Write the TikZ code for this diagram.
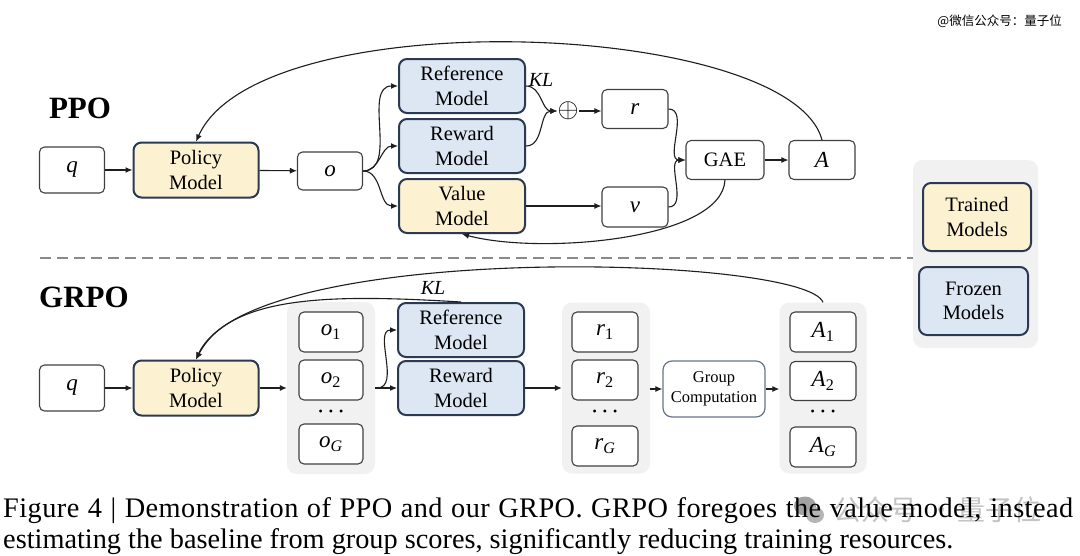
\documentclass[tikz,border=0pt]{standalone}
\usepackage{fix-cm}
\usepackage{graphicx}
\usepackage{fontspec}
\setmainfont{Liberation Serif}
\newfontfamily\cjk{Noto Sans CJK SC}
\newfontfamily\capspaced[LetterSpace=1.6]{Liberation Serif}
\usetikzlibrary{arrows.meta}
\newcommand\fz[2]{\fontsize{#1}{#2}\selectfont}
\newcommand\mi[1]{\textit{#1}}
\newcommand\ms[2]{\textit{#1}\textsubscript{#2}}
\definecolor{navy}{HTML}{2B3A52}
\definecolor{boxgray}{HTML}{404040}
\definecolor{trainfill}{HTML}{FCF1D0}
\definecolor{frozfill}{HTML}{DDE7F3}
\definecolor{bggray}{HTML}{F1F1F1}
\definecolor{linecol}{HTML}{1E1E1E}
\definecolor{gcborder}{HTML}{66758C}
\definecolor{dashcol}{HTML}{8A8A8A}
\definecolor{wmtext}{HTML}{C4C4C4}
\definecolor{wmicon}{HTML}{A2A2A2}
\tikzset{
  base/.style={rounded corners=5pt, align=center, inner sep=0pt, font=\fz{20.5}{24.5}, text=black},
  plain/.style={base, draw=boxgray, fill=white, line width=1.1pt},
  var/.style={plain, font=\fz{23}{23}},
  trained/.style={base, draw=navy, fill=trainfill, line width=2pt, rounded corners=8pt},
  frozen/.style={base, draw=navy, fill=frozfill, line width=2pt, rounded corners=8pt},
  grpbg/.style={fill=bggray, rounded corners=10pt, inner sep=0pt},
  arr/.style={-{Latex[length=7pt,width=6pt]}, line width=1.1pt, draw=linecol},
  title/.style={font=\fz{31}{31}\bfseries, inner sep=0pt},
  lbl/.style={font=\fz{20}{20}, inner sep=0pt},
  dotsn/.style={font=\fz{12}{12}, inner sep=0pt},
  wm/.style={anchor=base west, inner sep=0pt, text=wmtext, font=\fz{28}{28}\cjk},
}
\begin{document}
\begin{tikzpicture}[x=1pt,y=-1pt]
\useasboundingbox[fill=white] (0,0) rectangle (1080,555);

% watermarks
\node[anchor=base east, inner sep=0pt, font=\fz{12.5}{12.5}\cjk] (wm) at (1062,25) {@微信公众号：量子位};
\fill[wmicon] (805,506) ellipse [x radius=11, y radius=9.5];
\fill[wmicon!80] (815,515) ellipse [x radius=9, y radius=8];
\node[wm] (wm2) at (833,520) {公众号};
\node[wm] (wm3) at (927,520) {·};
\node[wm] (wm4) at (957,520) {量子位};

% ---------------- PPO ----------------
\node[title] (ppo) at (80,108) {PPO};
\node[var, minimum width=65pt, minimum height=46pt] (q1) at (72,170) {\mi{q}};
\node[trained, minimum width=125pt, minimum height=55pt] (pol1) at (196,170) {Policy\\Model};
\node[var, minimum width=65pt, minimum height=38pt] (o) at (330,171) {\mi{o}};
\node[frozen, minimum width=126pt, minimum height=54pt] (ref1) at (462,86) {Reference\\Model};
\node[frozen, minimum width=126pt, minimum height=54pt] (rew1) at (462,146) {Reward\\Model};
\node[trained, minimum width=126pt, minimum height=54pt] (val1) at (462,206) {Value\\Model};
\node[lbl] (kl1) at (541,80) {\mi{KL}};
\node[inner sep=0pt, font=\fz{20}{20}] (oplus) at (568,111) {\scalebox{1.35}{$\oplus$}};
\node[var, minimum width=66pt, minimum height=39pt] (r) at (635,109) {\mi{r}};
\node[var, minimum width=66pt, minimum height=40pt] (v) at (635,207) {\mi{v}};
\node[plain, minimum width=78pt, minimum height=39pt] (gae) at (725,160) {GAE};
\node[var, minimum width=66pt, minimum height=39pt] (A) at (822,160) {\mi{A}};

\draw[arr] (q1) -- (pol1);
\draw[arr] (pol1) -- (o);
\draw[arr] (o.east) to[out=0,in=180] (ref1.west);
\draw[arr] (o.east) to[out=0,in=180] (rew1.west);
\draw[arr] (o.east) to[out=0,in=180] (val1.west);
\draw[arr] (ref1.east) to[out=0,in=180] (oplus.west);
\draw[arr] (rew1.east) to[out=0,in=180] (oplus.west);
\draw[arr] (oplus.east) -- (oplus.east -| r.west);
\draw[arr] (r.east) to[out=0,in=180] (gae.west);
\draw[arr] (v.east) to[out=0,in=180] (gae.west);
\draw[arr] (val1.east) -- (val1.east -| v.west);
\draw[arr] (gae) -- (A);
\draw[arr] (A.north) .. controls (790,20) and (260,0) .. (pol1.north);
\draw[arr] (gae.south) .. controls (722,240) and (540,255) .. (val1.south);

% separator
\draw[dashcol, line width=2.5pt, dash pattern=on 11pt off 6pt] (40,258) -- (1028,258);

% legend
\node[grpbg, minimum width=125pt, minimum height=188pt] (legbg) at (975.5,254) {};
\node[trained, minimum width=108pt, minimum height=68pt] (legt) at (977,217) {Trained\\Models};
\node[frozen, minimum width=109pt, minimum height=68pt] (legf) at (973.5,301) {Frozen\\Models};

% ---------------- GRPO ----------------
\node[title] (grpo) at (84,297) {GRPO};
\node[var, minimum width=65pt, minimum height=46pt] (q2) at (72,388) {\mi{q}};
\node[trained, minimum width=125pt, minimum height=55pt] (pol2) at (196,388) {Policy\\Model};

\node[grpbg, minimum width=88pt, minimum height=172pt] (obg) at (331,388) {};
\node[var, minimum width=64pt, minimum height=40pt] (o1) at (331,332) {\ms{o}{1}};
\node[var, minimum width=64pt, minimum height=40pt] (o2) at (331,380) {\ms{o}{2}};
\node[dotsn] (od) at (331,413) {\textbullet\hspace{6pt}\textbullet\hspace{6pt}\textbullet};
\node[var, minimum width=64pt, minimum height=40pt] (oG) at (331,444) {\ms{o}{\textit{G}}};

\node[frozen, minimum width=126pt, minimum height=54pt] (ref2) at (461,330) {Reference\\Model};
\node[frozen, minimum width=126pt, minimum height=54pt] (rew2) at (461,388) {Reward\\Model};
\node[lbl] (kl2) at (433,288) {\mi{KL}};

\node[grpbg, minimum width=88pt, minimum height=171pt] (rbg) at (606,388) {};
\node[var, minimum width=66pt, minimum height=40pt] (r1) at (605,332) {\ms{r}{1}};
\node[var, minimum width=66pt, minimum height=40pt] (r2) at (605,380) {\ms{r}{2}};
\node[dotsn] (rd) at (605,413) {\textbullet\hspace{6pt}\textbullet\hspace{6pt}\textbullet};
\node[var, minimum width=66pt, minimum height=40pt] (rG) at (605,446) {\ms{r}{\textit{G}}};

\node[base, draw=gcborder, fill=white, line width=1.2pt, rounded corners=9pt, minimum width=102pt, minimum height=56pt, font=\fz{16.5}{20}] (gc) at (714,389) {Group\\Computation};

\node[grpbg, minimum width=87pt, minimum height=171pt] (abg) at (823,388) {};
\node[var, minimum width=66pt, minimum height=40pt] (A1) at (823,332) {\ms{A}{1}};
\node[var, minimum width=66pt, minimum height=39pt] (A2) at (823,381) {\ms{A}{2}};
\node[dotsn] (ad) at (823,413) {\textbullet\hspace{6pt}\textbullet\hspace{6pt}\textbullet};
\node[var, minimum width=66pt, minimum height=40pt] (AG) at (823,447) {\ms{A}{\textit{G}}};

\draw[arr] (q2) -- (pol2);
\draw[arr] (pol2.east) -- (pol2.east -| obg.west);
\coordinate (split) at (377,388);
\draw[arr] (obg.east |- rew2) -- (rew2.west);
\draw[arr] (split) to[out=0,in=180] (ref2.west);
\draw[arr] (rew2.east) -- (rew2.east -| rbg.west);
\draw[arr] (rbg.east |- gc) -- (gc.west);
\draw[arr] (gc.east) -- (gc.east -| abg.west);
\draw[arr] (abg.north) .. controls (805,255) and (250,240) .. (pol2.north);
\draw[arr] (ref2.north) .. controls (330,294) and (230,295) .. (pol2.north);

% caption
\node[anchor=base west, inner sep=0pt, font=\fz{28.3}{32}\capspaced] (cap1) at (3,517) {\makebox[1070pt][s]{Figure 4 | Demonstration of PPO and our GRPO. GRPO foregoes the value model, instead}};
\node[anchor=base west, inner sep=0pt, font=\fz{28.3}{32}] (cap2) at (3,548) {estimating the baseline from group scores, significantly reducing training resources.};
\end{tikzpicture}
\end{document}
